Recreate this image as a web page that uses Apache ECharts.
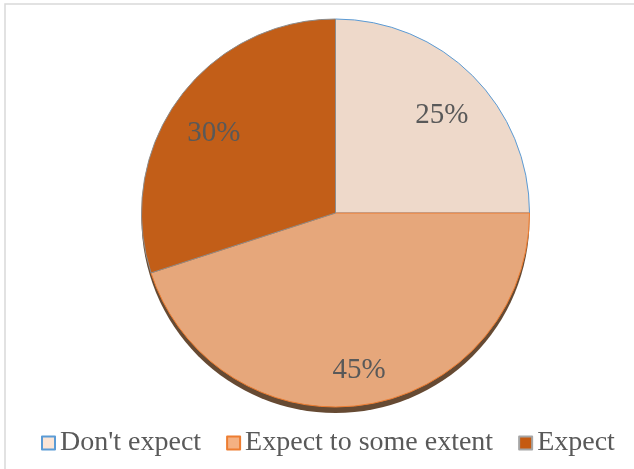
<!DOCTYPE html>
<html>
<head>
<meta charset="utf-8">
<script src="https://cdn.jsdelivr.net/npm/echarts@6/dist/echarts.min.js"></script>
<style>
  html, body { margin: 0; padding: 0; background: #ffffff; }
  #chart { width: 634px; height: 469px; }
</style>
</head>
<body>
<div id="chart"></div>
<script>
// Survey answers and their shares (percent)
const categories = ["Don't expect", "Expect to some extent", "Expect"];
const shares = [25, 45, 30];

// Slice fills and outlines, legend swatch fills and outlines
const sliceFills = ['#eed9ca', '#e6a77b', '#c25e18'];
const sliceBorders = ['#5b9bd5', '#ed7d31', '#8c8c8c'];
const swatchFills = ['#fbe5d6', '#f4b183', '#c55a11'];
const swatchBorders = ['#5b9bd5', '#ed7d31', '#a5a5a5'];

const FONT = '"Liberation Serif", "Times New Roman", serif';
const CENTER = [335.5, 213];
const R = 194;

const chart = echarts.init(document.getElementById('chart'), null, { renderer: 'canvas' });

const total = shares.reduce((a, b) => a + b, 0);

chart.setOption({
  animation: false,
  backgroundColor: '#ffffff',
  graphic: [{
    type: 'rect',
    shape: { x: 5, y: 4, width: 700, height: 600 },
    style: { fill: 'none', stroke: '#d9d9d9', lineWidth: 1.5 },
    silent: true,
    z: -10
  }],
  legend: {
    left: 36,
    top: 424,
    orient: 'horizontal',
    icon: 'rect',
    itemWidth: 13,
    itemHeight: 13,
    itemGap: 25,
    selectedMode: false,
    textStyle: { fontFamily: FONT, fontSize: 28, color: '#595959', padding: [0, 0, 0, 0] },
    data: categories.map((name, i) => ({
      name,
      itemStyle: { color: swatchFills[i], borderColor: swatchBorders[i], borderWidth: 2 }
    }))
  },
  series: [
    // dark rim showing the pie's thickness beneath the face
    {
      type: 'pie',
      silent: true,
      center: [CENTER[0], CENTER[1] + 6],
      radius: [0, R],
      label: { show: false },
      labelLine: { show: false },
      itemStyle: { color: '#664a33', borderWidth: 0 },
      data: [{ name: 'rim', value: 1 }],
      legendHoverLink: false,
      z: 1
    },
    // the pie face
    {
      type: 'pie',
      name: 'answers',
      center: CENTER,
      radius: [0, R],
      startAngle: 90,
      clockwise: true,
      label: { show: false },
      labelLine: { show: false },
      data: categories.map((name, i) => ({
        name,
        value: shares[i],
        itemStyle: { color: sliceFills[i], borderColor: sliceBorders[i], borderWidth: 1 }
      })),
      z: 2
    },
    // percentage labels, placed further out than the slice midpoint
    {
      type: 'pie',
      silent: true,
      center: [CENTER[0], CENTER[1] + 9],
      radius: [0, R * 1.52],
      startAngle: 90,
      clockwise: true,
      itemStyle: { color: 'rgba(0,0,0,0)', borderWidth: 0 },
      labelLine: { show: false },
      label: {
        show: true,
        position: 'inside',
        fontFamily: FONT,
        fontSize: 29,
        color: '#595959',
        formatter: p => Math.round(p.value / total * 100) + '%'
      },
      data: categories.map((name, i) => ({ name: name + ' ', value: shares[i] })),
      legendHoverLink: false,
      z: 3
    }
  ]
});
</script>
</body>
</html>
